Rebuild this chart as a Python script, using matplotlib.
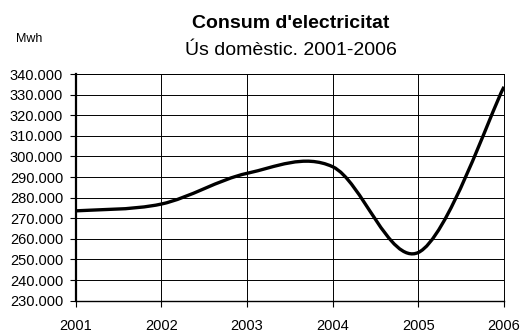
import numpy as np
import matplotlib
matplotlib.use('Agg')
import matplotlib.pyplot as plt
from matplotlib.path import Path
from matplotlib.patches import PathPatch
from matplotlib.ticker import FuncFormatter

plt.rcParams['font.family'] = ['Liberation Sans', 'DejaVu Sans']

# yearly consumption, Mwh
years = [2001, 2002, 2003, 2004, 2005, 2006]
consum = [273600, 276900, 291800, 295000, 253400, 333800]

y_ticks = list(range(230000, 340001, 10000))


def smooth_path(xs, ys):
    # Excel-style smoothed line: cubic bezier segments through the points
    xs = np.asarray(xs, dtype=float)
    ys = np.asarray(ys, dtype=float)
    n = len(xs)
    verts = [(xs[0], ys[0])]
    codes = [Path.MOVETO]
    for i in range(n - 1):
        a = max(i - 1, 0)
        b = min(i + 2, n - 1)
        c1 = (xs[i] + (xs[i + 1] - xs[a]) / 6, ys[i] + (ys[i + 1] - ys[a]) / 6)
        c2 = (xs[i + 1] - (xs[b] - xs[i]) / 6, ys[i + 1] - (ys[b] - ys[i]) / 6)
        verts += [c1, c2, (xs[i + 1], ys[i + 1])]
        codes += [Path.CURVE4] * 3
    return Path(verts, codes)


fig = plt.figure(figsize=(5.24, 3.32), dpi=100)
W, H = 524, 332
ax = fig.add_axes([75.7 / W, 1 - 300.7 / H, (504 - 75.7) / W, (300.7 - 74) / H])

ax.set_xlim(years[0], years[-1])
ax.set_ylim(y_ticks[0], y_ticks[-1])
ax.set_xticks(years)
ax.set_yticks(y_ticks)
ax.yaxis.set_major_formatter(FuncFormatter(lambda v, p: f'{v:,.0f}'.replace(',', '.')))

ax.grid(True, color='black', linewidth=0.7)
ax.set_axisbelow(True)
for s in ax.spines.values():
    s.set_color('black')
    s.set_linewidth(0.7)
ax.spines['left'].set_linewidth(1.6)
ax.spines['bottom'].set_linewidth(1.0)

ax.tick_params(axis='y', direction='out', length=4, width=0.8, pad=5, labelsize=10.5)
ax.tick_params(axis='x', direction='out', length=4, width=0.8, pad=9.5, labelsize=10.5)

patch = PathPatch(smooth_path(years, consum), facecolor='none', edgecolor='black',
                  linewidth=2.4, capstyle='butt', joinstyle='round')
ax.add_patch(patch)

fig.text(291 / W, 1 - 28.3 / H, "Consum d'electricitat", ha='center', va='baseline',
         fontsize=14, fontweight='bold')
fig.text(291 / W, 1 - 55 / H, 'Ús domèstic. 2001-2006', ha='center', va='baseline',
         fontsize=14)
fig.text(29 / W, 1 - 41.7 / H, 'Mwh', ha='center', va='baseline', fontsize=9)

fig.savefig('out.png', dpi=100)
